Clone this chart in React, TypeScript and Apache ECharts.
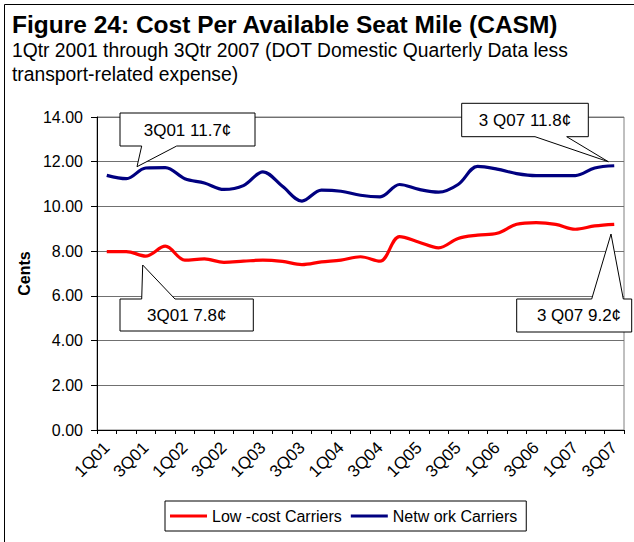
import React, { useEffect, useRef } from "react";
import * as echarts from "echarts";

const categories = [
  "1Q01", "2Q01", "3Q01", "4Q01",
  "1Q02", "2Q02", "3Q02", "4Q02",
  "1Q03", "2Q03", "3Q03", "4Q03",
  "1Q04", "2Q04", "3Q04", "4Q04",
  "1Q05", "2Q05", "3Q05", "4Q05",
  "1Q06", "2Q06", "3Q06", "4Q06",
  "1Q07", "2Q07", "3Q07",
];

const lowCost = [
  7.98, 7.98, 7.78, 8.22, 7.6, 7.65, 7.5, 7.55, 7.6, 7.54, 7.4, 7.52, 7.6, 7.75,
  7.55, 8.65, 8.4, 8.15, 8.57, 8.72, 8.8, 9.2, 9.28, 9.2, 8.98, 9.13, 9.2,
];

const network = [
  11.39, 11.24, 11.72, 11.74, 11.24, 11.05, 10.76, 10.93, 11.55, 10.9, 10.24,
  10.73, 10.68, 10.5, 10.43, 10.98, 10.76, 10.64, 10.98, 11.79, 11.67, 11.47,
  11.38, 11.38, 11.38, 11.72, 11.82,
];

const seriesNames = ["Low -cost Carriers", "Netw ork Carriers"];
const titleText = "Figure 24: Cost Per Available Seat Mile (CASM)";
const subtitleLines = [
  "1Qtr 2001 through 3Qtr 2007 (DOT Domestic Quarterly Data less",
  "transport-related expense)",
];
const callouts = [
  { text: "3Q01 11.7\u00a2" },
  { text: "3 Q07 11.8\u00a2" },
  { text: "3Q01 7.8\u00a2" },
  { text: "3 Q07 9.2\u00a2" },
];

const FONT = "'Liberation Sans', Arial, sans-serif";

export default function App() {
  const ref = useRef<HTMLDivElement>(null);

  useEffect(() => {
    document.body.style.margin = "0";
    const chart = echarts.init(ref.current!, null, { renderer: "svg" });

    const calloutShapes = [
      {
        pts: [[120, 113], [255, 113], [255, 146], [176.7, 146], [137, 166.7], [141.7, 146], [120, 146]],
        tx: 187.5, ty: 130,
      },
      {
        pts: [[461.7, 103.3], [588.3, 103.3], [588.3, 136.7], [566.7, 136.7], [608.3, 161.7], [535, 136.7], [461.7, 136.7]],
        tx: 525, ty: 120,
      },
      {
        pts: [[120, 299], [141.7, 299], [142.7, 265], [175, 299], [253.3, 299], [253.3, 331], [120, 331]],
        tx: 186.7, ty: 315.5,
      },
      {
        pts: [[516.7, 299], [591.7, 299], [611, 234], [623.3, 299], [631.7, 299], [631.7, 332], [516.7, 332]],
        tx: 579, ty: 315.5,
      },
    ];

    const graphics: any[] = [
      { type: "line", shape: { x1: 4.5, y1: 4.5, x2: 634, y2: 4.5 }, style: { stroke: "#000", lineWidth: 1 }, z: 10 },
      { type: "line", shape: { x1: 4.5, y1: 4.5, x2: 4.5, y2: 542 }, style: { stroke: "#000", lineWidth: 1 }, z: 10 },
      {
        type: "text", left: 12, top: 12,
        style: { text: titleText, font: `bold 24.5px ${FONT}`, fill: "#000" },
      },
      {
        type: "text", left: 12, top: 41,
        style: { text: subtitleLines[0], font: `19.3px ${FONT}`, fill: "#000" },
      },
      {
        type: "text", left: 12, top: 65,
        style: { text: subtitleLines[1], font: `19.3px ${FONT}`, fill: "#000" },
      },
    ];
    calloutShapes.forEach((c, i) => {
      graphics.push({
        type: "polygon",
        shape: { points: c.pts },
        style: { fill: "#fff", stroke: "#000", lineWidth: 1 },
        z: 20,
      });
      graphics.push({
        type: "text",
        x: c.tx, y: c.ty,
        style: {
          text: callouts[i].text, font: `17px ${FONT}`, fill: "#000",
          textAlign: "center", textVerticalAlign: "middle",
        },
        z: 21,
      });
    });

    chart.setOption({
      animation: false,
      backgroundColor: "#fff",
      textStyle: { fontFamily: FONT },
      grid: { left: 97, right: 10, top: 117, bottom: 112, containLabel: false, show: true, borderColor: "#808080", borderWidth: 1 },
      xAxis: {
        type: "category",
        data: categories,
        boundaryGap: true,
        axisLine: { lineStyle: { color: "#000", width: 1 } },
        axisTick: { show: true, interval: 0, length: 4, lineStyle: { color: "#000" } },
        axisLabel: { interval: 1, rotate: 45, fontSize: 17, color: "#000", margin: 15, fontFamily: FONT },
        splitLine: { show: false },
      },
      yAxis: {
        type: "value",
        min: 0, max: 14, interval: 2,
        name: "Cents",
        nameLocation: "middle",
        nameGap: 65,
        nameTextStyle: { fontSize: 16, fontWeight: "bold", color: "#000", fontFamily: FONT },
        axisLine: { show: true, lineStyle: { color: "#000", width: 1 } },
        axisTick: { show: true, length: 6, lineStyle: { color: "#000" } },
        axisLabel: { formatter: (v: number) => v.toFixed(2), fontSize: 16, color: "#000", margin: 14, fontFamily: FONT },
        splitLine: { show: true, lineStyle: { color: "#707070", width: 1 } },
      },
      legend: {
        data: seriesNames,
        left: 165, top: 501,
        icon: "rect",
        itemWidth: 37, itemHeight: 3, itemGap: 9,
        padding: [7, 9, 7, 5],
        borderColor: "#000", borderWidth: 1,
        textStyle: { fontSize: 16, color: "#000", fontFamily: FONT },
      },
      series: [
        {
          name: seriesNames[0], type: "line", data: lowCost, smooth: 0.35,
          symbol: "none", lineStyle: { color: "#ff0000", width: 3.2 }, itemStyle: { color: "#ff0000" },
        },
        {
          name: seriesNames[1], type: "line", data: network, smooth: 0.35,
          symbol: "none", lineStyle: { color: "#000080", width: 3.2 }, itemStyle: { color: "#000080" },
        },
      ],
      graphic: graphics,
    });

    return () => chart.dispose();
  }, []);

  return <div ref={ref} style={{ position: "absolute", left: 0, top: 0, width: 634, height: 542 }} />;
}
